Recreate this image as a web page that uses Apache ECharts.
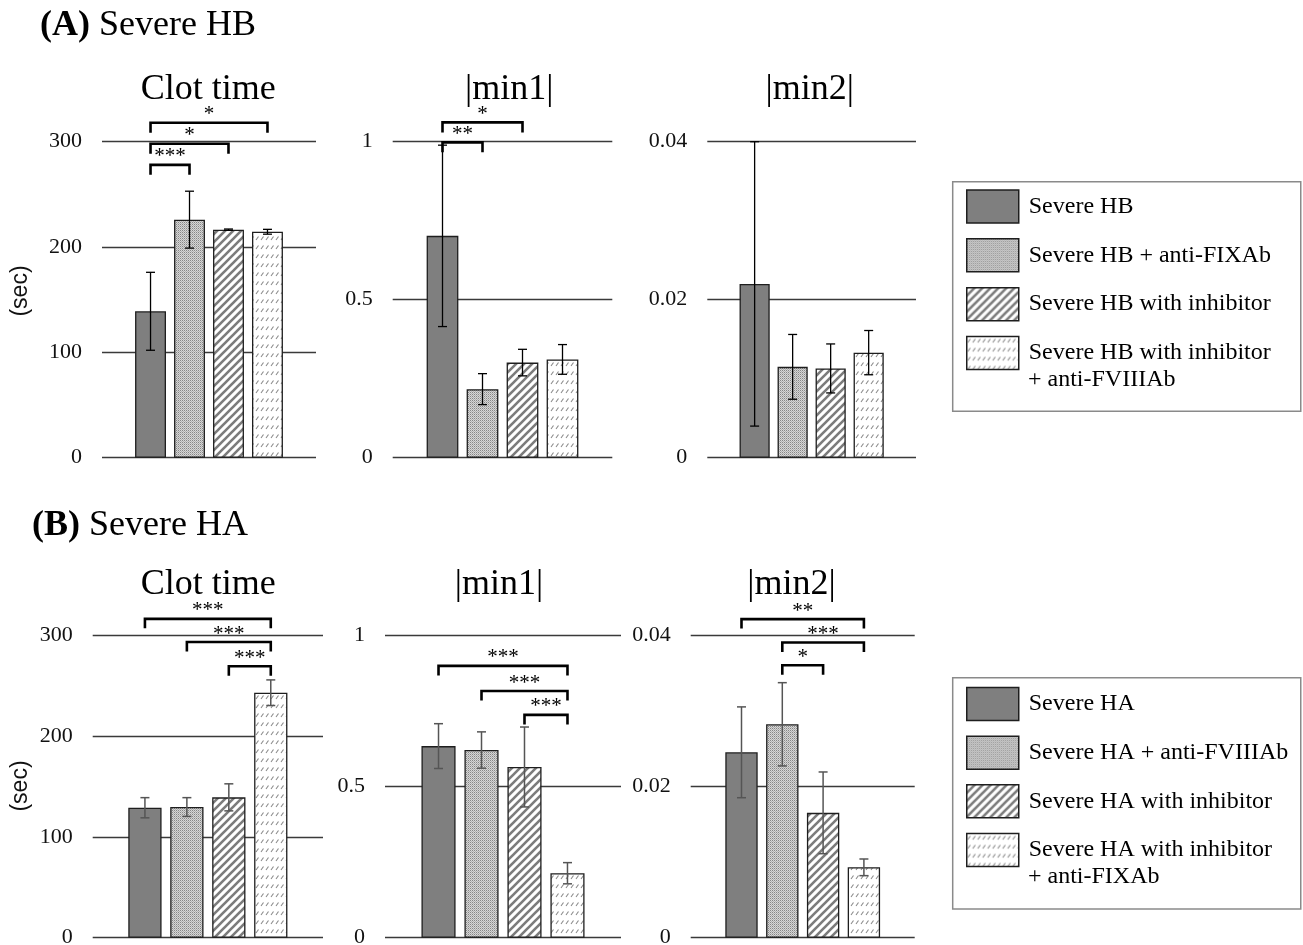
<!DOCTYPE html>
<html>
<head>
<meta charset="utf-8">
<script src="https://cdn.jsdelivr.net/npm/echarts@6/dist/echarts.min.js"></script>
<style>
html,body{margin:0;padding:0;background:#fff;}
#chart{width:1303px;height:945px;}
</style>
</head>
<body>
<div id="chart"></div>
<script>
// ---------------- DATA ----------------
const hbGroups = ['Severe HB', 'Severe HB + anti-FIXAb', 'Severe HB with inhibitor', 'Severe HB with inhibitor + anti-FVIIIAb'];
const haGroups = ['Severe HA', 'Severe HA + anti-FVIIIAb', 'Severe HA with inhibitor', 'Severe HA with inhibitor + anti-FIXAb'];
const panelTitles = ['Clot time', '|min1|', '|min2|'];
const rowTitles = [['(A)', 'Severe HB'], ['(B)', 'Severe HA']];
const yUnit = '(sec)';

// axis ranges [min, max, interval]
const clotAxis = [0, 300, 100];
const min1Axis = [0, 1, 0.5];
const min2Axis = [0, 0.04, 0.02];

// Severe HB (mean, SD)
const hbClotMean = [139, 226, 216.5, 214.5];
const hbClotSD   = [37, 27, 0.6, 2.3];
const hbMin1Mean = [0.702, 0.217, 0.301, 0.311];
const hbMin1SD   = [0.287, 0.049, 0.042, 0.047];
const hbMin2Mean = [0.0220, 0.0115, 0.0113, 0.0133];
const hbMin2SD   = [0.0180, 0.0041, 0.0031, 0.0028];

// Severe HA (mean, SD)
const haClotMean = [128.8, 129.5, 139.1, 242.8];
const haClotSD   = [10.0, 9.3, 13.4, 12.7];
const haMin1Mean = [0.633, 0.620, 0.564, 0.213];
const haMin1SD   = [0.074, 0.060, 0.132, 0.035];
const haMin2Mean = [0.0245, 0.0282, 0.0165, 0.0093];
const haMin2SD   = [0.0060, 0.0055, 0.0054, 0.0011];

// significance brackets: [fromGroup, toGroup, height (axis units), label]
const hbClotSig = [[0, 3, 318, '*'], [0, 2, 298, '*'], [0, 1, 278, '***']];
const hbMin1Sig = [[0, 2, 1.061, '*'], [0, 1, 0.998, '**']];
const hbMin2Sig = [];
const haClotSig = [[0, 3, 316, '***'], [1, 3, 293, '***'], [2, 3, 269, '***']];
const haMin1Sig = [[0, 3, 0.898, '***'], [1, 3, 0.815, '***'], [2, 3, 0.736, '***']];
const haMin2Sig = [[0, 3, 0.0421, '**'], [1, 3, 0.0390, '***'], [1, 2, 0.0360, '*']];

// ---------------- STYLE / LAYOUT ----------------
const SERIF = '"Liberation Serif", "Times New Roman", serif';
const SANS = '"Liberation Sans", Arial, sans-serif';

function makeTile(w, h, draw) {
  const c = document.createElement('canvas');
  c.width = w; c.height = h;
  draw(c.getContext('2d'));
  return c;
}
const stippleTile = makeTile(2, 2, g => {
  g.fillStyle = '#d6d6d6'; g.fillRect(0, 0, 2, 2);
  g.fillStyle = '#868686'; g.fillRect(0, 0, 1, 1);
  g.fillStyle = '#b0b0b0'; g.fillRect(1, 1, 1, 1);
});
const stripeTile = makeTile(8, 8, g => {
  g.fillStyle = '#ffffff'; g.fillRect(0, 0, 8, 8);
  g.strokeStyle = '#7c7c7c'; g.lineWidth = 2.6; g.lineCap = 'square';
  g.beginPath();
  g.moveTo(-2, 10); g.lineTo(10, -2);
  g.moveTo(-2, 2); g.lineTo(2, -2);
  g.moveTo(6, 10); g.lineTo(10, 6);
  g.stroke();
});
const hatchTile = makeTile(5, 9, g => {
  g.fillStyle = '#ffffff'; g.fillRect(0, 0, 5, 9);
  g.strokeStyle = '#8a8a8a'; g.lineWidth = 1.1;
  g.beginPath(); g.moveTo(1, 6); g.lineTo(3.5, 2.5); g.stroke();
});
const fills = [
  '#7f7f7f',
  { image: stippleTile, repeat: 'repeat' },
  { image: stripeTile, repeat: 'repeat' },
  { image: hatchTile, repeat: 'repeat' }
];

const rows = [
  { top: 141.7, height: 316, err: '#000000', errW: 1.3, tick: 10, titleTop: 72, headTop: 8, headLeft: 40, secY: 291 },
  { top: 635, height: 302.7, err: '#555555', errW: 1.5, tick: 9.5, titleTop: 567, headTop: 508, headLeft: 32, secY: 786 }
];

const panels = [
  { row: 0, left: 102,   width: 214,   titleX: 208.3, title: panelTitles[0], names: hbGroups, mean: hbClotMean, sd: hbClotSD, sig: hbClotSig, axis: clotAxis },
  { row: 0, left: 392.7, width: 219.6, titleX: 509.3, title: panelTitles[1], names: hbGroups, mean: hbMin1Mean, sd: hbMin1SD, sig: hbMin1Sig, axis: min1Axis },
  { row: 0, left: 707.3, width: 208.7, titleX: 809.8, title: panelTitles[2], names: hbGroups, mean: hbMin2Mean, sd: hbMin2SD, sig: hbMin2Sig, axis: min2Axis },
  { row: 1, left: 92.7,  width: 230.3, titleX: 208.3, title: panelTitles[0], names: haGroups, mean: haClotMean, sd: haClotSD, sig: haClotSig, axis: clotAxis },
  { row: 1, left: 385,   width: 236,   titleX: 499,   title: panelTitles[1], names: haGroups, mean: haMin1Mean, sd: haMin1SD, sig: haMin1Sig, axis: min1Axis },
  { row: 1, left: 690.7, width: 224,   titleX: 791.5, title: panelTitles[2], names: haGroups, mean: haMin2Mean, sd: haMin2SD, sig: haMin2Sig, axis: min2Axis }
];

// x extent so that 4 groups sit centred in each plot
const X_MIN = -1.245, X_MAX = 4.245;

function errRender(color, lw) {
  return function (params, api) {
    const x = api.value(0), m = api.value(1), s = api.value(2);
    const hi = api.coord([x, m + s]);
    const lo = api.coord([x, m - s]);
    const cw = 4.5;
    const st = { stroke: color, lineWidth: lw, fill: null };
    return {
      type: 'group', children: [
        { type: 'line', shape: { x1: hi[0], y1: hi[1], x2: lo[0], y2: lo[1] }, style: st },
        { type: 'line', shape: { x1: hi[0] - cw, y1: hi[1], x2: hi[0] + cw, y2: hi[1] }, style: st },
        { type: 'line', shape: { x1: lo[0] - cw, y1: lo[1], x2: lo[0] + cw, y2: lo[1] }, style: st }
      ]
    };
  };
}

function sigRender(sig, tick) {
  return function (params, api) {
    const a = api.coord([api.value(0), api.value(2)]);
    const b = api.coord([api.value(1), api.value(2)]);
    const y = a[1];
    return {
      type: 'group', children: [
        { type: 'polyline', shape: { points: [[a[0], y + tick], [a[0], y], [b[0], y], [b[0], y + tick]] },
          style: { stroke: '#000', lineWidth: 2.6, fill: null, lineJoin: 'miter' } },
        { type: 'text', x: (a[0] + b[0]) / 2, y: y - 8,
          style: { text: sig[params.dataIndex][3], font: '21px ' + SERIF, fill: '#000', align: 'center', verticalAlign: 'middle' } }
      ]
    };
  };
}

const grid = [], xAxis = [], yAxis = [], series = [], title = [], graphic = [];

panels.forEach((p, k) => {
  const r = rows[p.row];
  grid.push({ left: p.left, width: p.width, top: r.top, height: r.height, containLabel: false, outerBoundsMode: 'none' });
  xAxis.push({ gridIndex: k, type: 'value', min: X_MIN, max: X_MAX, show: false });
  yAxis.push({
    gridIndex: k, type: 'value', min: p.axis[0], max: p.axis[1], interval: p.axis[2],
    axisLine: { show: false }, axisTick: { show: false },
    splitLine: { show: true, lineStyle: { color: '#3a3a3a', width: 1.3 } },
    axisLabel: { margin: 20, fontSize: 22, fontFamily: SERIF, color: '#111' }
  });
  const bw = p.width * 0.1445;
  p.names.forEach((name, i) => {
    series.push({
      type: 'bar', name: name, xAxisIndex: k, yAxisIndex: k,
      barWidth: bw, barGap: '-100%',
      data: [[i, p.mean[i]]],
      itemStyle: { color: fills[i], borderColor: '#1e1e1e', borderWidth: 1.3 },
      emphasis: { disabled: true }, z: 2
    });
  });
  series.push({
    type: 'custom', xAxisIndex: k, yAxisIndex: k, silent: true, z: 5,
    data: p.mean.map((m, i) => [i, m, p.sd[i]]),
    renderItem: errRender(r.err, r.errW)
  });
  if (p.sig.length) {
    series.push({
      type: 'custom', xAxisIndex: k, yAxisIndex: k, silent: true, z: 6, clip: false,
      data: p.sig.map(s => [s[0], s[1], s[2]]),
      renderItem: sigRender(p.sig, r.tick)
    });
  }
  title.push({
    text: p.title, left: p.titleX, top: r.titleTop, textAlign: 'center', padding: 0,
    textStyle: { fontFamily: SERIF, fontSize: 36, fontWeight: 'normal', color: '#000' }
  });
});

rows.forEach((r, i) => {
  title.push({
    text: '{b|' + rowTitles[i][0] + '} ' + rowTitles[i][1], left: r.headLeft, top: r.headTop, padding: 0,
    textStyle: {
      fontFamily: SERIF, fontSize: 36, fontWeight: 'normal', color: '#000',
      rich: { b: { fontFamily: SERIF, fontSize: 36, fontWeight: 'bold', color: '#000' } }
    }
  });
  graphic.push({
    type: 'text', x: 21, y: r.secY, rotation: Math.PI / 2, z: 100,
    style: { text: yUnit, font: '23px ' + SANS, fill: '#111', align: 'center', verticalAlign: 'middle' }
  });
});

// legends
const mctx = document.createElement('canvas').getContext('2d');
function textW(t) { mctx.font = '24px ' + SERIF; return mctx.measureText(t).width; }
function legendMain(name) {
  const key = ' with inhibitor + ';
  const i = name.indexOf(key);
  return i >= 0 ? name.slice(0, i + ' with inhibitor'.length) : name;
}
function legendRest(name) {
  const key = ' with inhibitor + ';
  const i = name.indexOf(key);
  return i >= 0 ? '+ ' + name.slice(i + key.length) : '';
}
const legendDefs = [
  { names: hbGroups, left: 952.7, top: 181.7, padTop: 7.6, padBottom: 41, gap: 14.3, restY: 380 },
  { names: haGroups, left: 952.7, top: 677.7, padTop: 9, padBottom: 41.6, gap: 14.2, restY: 877 }
];
const legend = legendDefs.map(d => {
  const maxW = Math.max.apply(null, d.names.map(n => textW(legendMain(n))));
  const padRight = Math.max(5, 1300 - (d.left + 13.3 + 52 + 10 + maxW));
  const last = d.names[d.names.length - 1];
  graphic.push({
    type: 'text', x: d.left + 13.3 + 52 + 10, y: d.restY, z: 100,
    style: { text: legendRest(last), font: '24px ' + SERIF, fill: '#000', align: 'left', verticalAlign: 'middle' }
  });
  return {
    data: d.names, orient: 'vertical', left: d.left, top: d.top,
    padding: [d.padTop, padRight, d.padBottom, 13.3],
    itemWidth: 52, itemHeight: 33, itemGap: d.gap, icon: 'rect',
    borderColor: '#8a8a8a', borderWidth: 1.5,
    itemStyle: { borderColor: '#1e1e1e', borderWidth: 1.5 },
    textStyle: { fontFamily: SERIF, fontSize: 24, color: '#000', padding: [0, 0, 0, 5] },
    formatter: legendMain,
    selectedMode: false
  };
});

const chart = echarts.init(document.getElementById('chart'), null, { renderer: 'canvas' });
chart.setOption({
  backgroundColor: '#ffffff',
  animation: false,
  title: title,
  legend: legend,
  grid: grid,
  xAxis: xAxis,
  yAxis: yAxis,
  graphic: { elements: graphic },
  series: series
});
</script>
</body>
</html>
